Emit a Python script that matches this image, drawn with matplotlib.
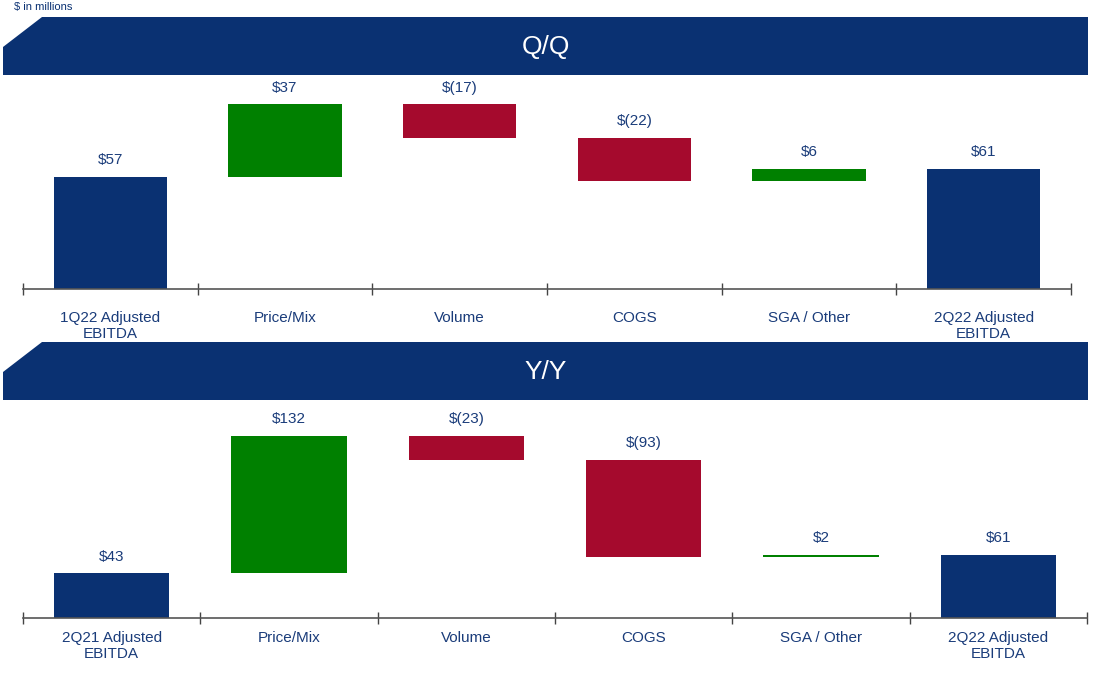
#!/usr/bin/env python3
"""
Adjusted EBITDA bridge charts (Q/Q and Y/Y waterfalls).
"""

import matplotlib.pyplot as plt
from matplotlib.patches import Polygon

# ---- data ----
qq_labels = ["1Q22 Adjusted\nEBITDA", "Price/Mix", "Volume", "COGS", "SGA / Other", "2Q22 Adjusted\nEBITDA"]
qq_values = [57, 37, -17, -22, 6, 61]

yy_labels = ["2Q21 Adjusted\nEBITDA", "Price/Mix", "Volume", "COGS", "SGA / Other", "2Q22 Adjusted\nEBITDA"]
yy_values = [43, 132, -23, -93, 2, 61]

NAVY = "#0A3172"
GREEN = "#008000"
RED = "#A50A2D"
TEXT = "#1A3C7A"
W, H = 1111, 677

plt.rcParams["font.family"] = ["Liberation Sans", "DejaVu Sans"]

fig = plt.figure(figsize=(W / 100, H / 100), dpi=100)


def px_rect(x0, y0, x1, y1):
    # pixel box (top-left origin) -> figure fraction [left, bottom, width, height]
    return [x0 / W, 1 - y1 / H, (x1 - x0) / W, (y1 - y0) / H]


def banner(y_top, y_bot, title):
    pts = [(3, y_bot), (3, y_top + 30), (42, y_top), (1088, y_top), (1088, y_bot)]
    poly = Polygon([(x / W, 1 - y / H) for x, y in pts], closed=True,
                   transform=fig.transFigure, facecolor=NAVY, edgecolor="none")
    fig.add_artist(poly)
    fig.text(546 / W, 1 - ((y_top + y_bot) / 2 + 1) / H, title, color="white",
             fontsize=19, ha="center", va="center")


def fmt(v, total):
    if total or v >= 0:
        return f"${v}"
    return f"$({abs(v)})"


def waterfall(ax, labels, values, ymax, label_pad):
    n = len(values)
    running = 0
    for i, v in enumerate(values):
        total = i == 0 or i == n - 1
        if total:
            bottom, height, color = 0, v, NAVY
            running = v
        else:
            if v >= 0:
                bottom, height, color = running, v, GREEN
            else:
                bottom, height, color = running + v, -v, RED
            running += v
        ax.bar(i, height, bottom=bottom, width=0.65, color=color)
        ax.annotate(fmt(v, total), (i, bottom + height), xytext=(0, 7),
                    textcoords="offset points", ha="center", va="bottom",
                    color=TEXT, fontsize=11)

    ax.set_xlim(-0.5, n - 0.5)
    ax.set_ylim(0, ymax)
    ax.set_xticks([i - 0.5 for i in range(n + 1)])
    ax.set_xticklabels([])
    ax.set_xticks(range(n), minor=True)
    ax.set_xticklabels(labels, minor=True, color=TEXT, fontsize=11, linespacing=1.2)
    ax.tick_params(axis="x", which="major", direction="inout", length=9, color="#444444", width=1)
    ax.tick_params(axis="x", which="minor", length=0, pad=label_pad)
    ax.set_yticks([])
    for s in ("top", "left", "right"):
        ax.spines[s].set_visible(False)
    ax.spines["bottom"].set_color("#555555")
    ax.spines["bottom"].set_linewidth(1.2)


fig.text(14 / W, 1 - 7 / H, "$ in millions", color=NAVY, fontsize=8, ha="left", va="center")

banner(17, 75, "Q/Q")
ax1 = fig.add_axes(px_rect(23, 80, 1071, 289))
waterfall(ax1, qq_labels, qq_values, 209 / 1.965, 16)

banner(342, 400, "Y/Y")
ax2 = fig.add_axes(px_rect(23, 405, 1087, 618))
waterfall(ax2, yy_labels, yy_values, 213 / 1.04, 9.5)

plt.savefig("out.png", dpi=100)
